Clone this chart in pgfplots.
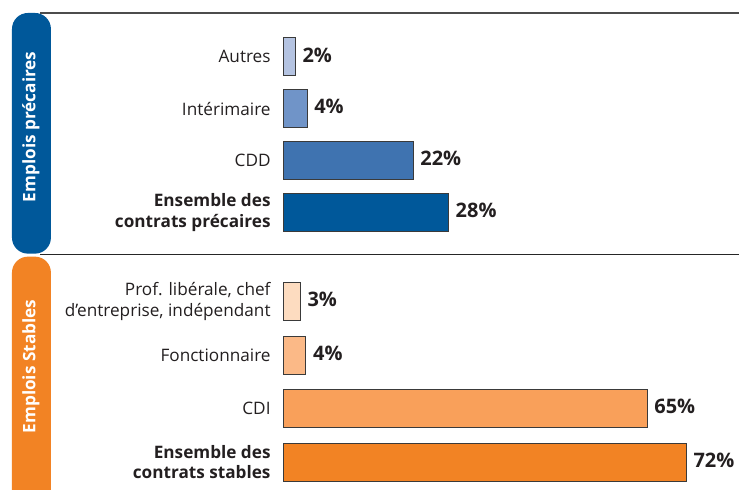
\documentclass[border=0pt]{standalone}
\usepackage{pgfplots}
\pgfplotsset{compat=1.18}
\usepackage{fontspec}
\setmainfont{Open Sans}
\definecolor{cA}{HTML}{B4C3E1}
\definecolor{cB}{HTML}{7094C8}
\definecolor{cC}{HTML}{3F73B0}
\definecolor{cD}{HTML}{00589A}
\definecolor{oA}{HTML}{FDDCC0}
\definecolor{oB}{HTML}{FBB987}
\definecolor{oC}{HTML}{F9A05A}
\definecolor{oD}{HTML}{F28324}
\definecolor{txt}{HTML}{231F20}
\definecolor{edge}{HTML}{3A3A3A}
\begin{document}
\begin{tikzpicture}
\begin{scope}[x=0.5pt,y=0.5pt]
\path[use as bounding box] (0,0) rectangle (741,490);
\begin{scope}
\clip (0,0) rectangle (741,490);
% frame lines
\draw[line width=1pt, gray!60!black] (40,477) -- (740,477);
\draw[line width=0.6pt, black!85] (40,235) -- (740,235);
% side panels
\fill[cD, rounded corners=8pt] (12,477) rectangle (51,236);
\fill[oD, rounded corners=8pt] (12,233) rectangle (51,-30);
\end{scope}
\node[rotate=90, text=white, font=\bfseries\fontsize{8.6}{10}\selectfont] at (31,363) {Emplois précaires};
\node[rotate=90, text=white, font=\bfseries\fontsize{8.6}{10}\selectfont] at (31,123) {Emplois Stables};
\end{scope}

\pgfplotsset{
  panel/.style={
    scale only axis, anchor=north west,
    xmin=0, ymin=-0.5, ymax=3.5, y dir=reverse,
    axis line style={draw=none}, major tick length=0pt,
    xtick=\empty, ytick={0,1,2,3},
    yticklabel style={align=right, text=txt, font=\fontsize{8.6}{10.2}\selectfont, xshift=-3pt},
    bar width=19pt,
    /pgf/number format/assume math mode=true,
    nodes near coords={\pgfmathprintnumber{\pgfplotspointmeta}\%},
    point meta=x,
    every node near coord/.append style={text=txt, font=\bfseries\fontsize{10}{12}\selectfont, xshift=0pt, yshift=1pt},
    clip=false,
  },
  bars/.style={xbar, bar shift=0pt, draw=edge, line width=0.5pt, fill=#1},
}

\begin{axis}[panel, at={(142pt,229.5pt)}, width=228pt, xmax=77.3, height=104pt,
  yticklabels={Autres, Intérimaire, CDD, {{\bfseries Ensemble des}\\{\bfseries contrats précaires}}}]
\addplot[bars=cA] coordinates {(2,0)};
\addplot[bars=cB] coordinates {(4,1)};
\addplot[bars=cC] coordinates {(22,2)};
\addplot[bars=cD] coordinates {(28,3)};
\end{axis}

\begin{axis}[panel, at={(142pt,107.5pt)}, width=228pt, xmax=81.4, height=107.4pt,
  yticklabels={{Prof. libérale, chef\\d'entreprise, indépendant}, Fonctionnaire, CDI, {{\bfseries Ensemble des}\\{\bfseries contrats stables}}}]
\addplot[bars=oA] coordinates {(3,0)};
\addplot[bars=oB] coordinates {(4,1)};
\addplot[bars=oC] coordinates {(65,2)};
\addplot[bars=oD] coordinates {(72,3)};
\end{axis}
\end{tikzpicture}
\end{document}
